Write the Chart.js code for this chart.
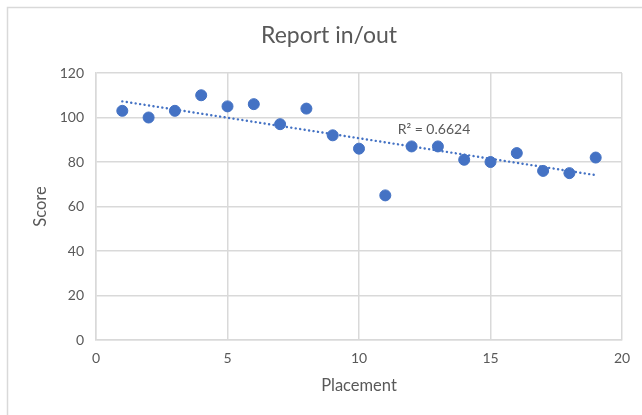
<!DOCTYPE html>
<html>
<head>
<meta charset="utf-8">
<script src="https://cdn.jsdelivr.net/npm/chart.js@4"></script>
<style>
  html, body { margin: 0; padding: 0; background: #fff; }
  #wrap { position: relative; width: 642px; height: 415px; }
</style>
</head>
<body>
<div id="wrap"><canvas id="chart-area" width="642" height="415"></canvas></div>
<script>
// placement on x, score on y
var placement = [1, 2, 3, 4, 5, 6, 7, 8, 9, 10, 11, 12, 13, 14, 15, 16, 17, 18, 19];
var score = [103, 100, 103, 110, 105, 106, 97, 104, 92, 86, 65, 87, 87, 81, 80, 84, 76, 75, 82];
var xTicks = [0, 5, 10, 15, 20];
var yTicks = [0, 20, 40, 60, 80, 100, 120];
var chartTitle = 'Report in/out';
var r2Label = 'R\u00B2 = 0.6624';

var blue = '#4472C4';
var grey = '#595959';
var gridGrey = '#d9d9d9';

// linear trendline from the points (least squares)
function trend(xs, ys) {
  var n = xs.length, sx = 0, sy = 0, sxy = 0, sxx = 0;
  for (var i = 0; i < n; i++) {
    sx += xs[i]; sy += ys[i]; sxy += xs[i] * ys[i]; sxx += xs[i] * xs[i];
  }
  var m = (n * sxy - sx * sy) / (n * sxx - sx * sx);
  var b = (sy - m * sx) / n;
  var x0 = xs[0], x1 = xs[n - 1];
  return [{x: x0, y: m * x0 + b}, {x: x1, y: m * x1 + b}];
}

var points = placement.map(function(p, i) { return {x: p, y: score[i]}; });

var frame = {
  id: 'frame',
  beforeDraw: function(chart) {
    var c = chart.ctx;
    c.save();
    c.fillStyle = '#fff';
    c.fillRect(0, 0, chart.width, chart.height);
    c.strokeStyle = gridGrey;
    c.lineWidth = 1.5;
    c.strokeRect(7.5, 7.5, 700, 500);
    // title, centred on the framed box rather than the plot
    c.font = '23px Lato';
    c.fillStyle = grey;
    c.textAlign = 'center';
    c.textBaseline = 'middle';
    c.fillText(chartTitle, 329, 36);
    c.restore();
  },
  afterDatasetsDraw: function(chart) {
    var c = chart.ctx;
    var xs = chart.scales.x, ys = chart.scales.y;
    c.save();
    c.font = '14px Lato';
    c.fillStyle = grey;
    c.textAlign = 'center';
    c.textBaseline = 'middle';
    c.fillText(r2Label, xs.getPixelForValue(12.85), ys.getPixelForValue(94.4));
    c.restore();
  }
};

var config = {
  type: 'scatter',
  data: {
    datasets: [{
      type: 'line',
      label: 'Trend',
      data: trend(placement, score),
      borderColor: blue,
      borderWidth: 2.4,
      borderDash: [0.1, 4.4],
      borderCapStyle: 'round',
      pointRadius: 0,
      fill: false,
      order: 2
    }, {
      label: 'Score',
      data: points,
      backgroundColor: blue,
      borderColor: blue,
      pointRadius: 5.5,
      order: 1
    }]
  },
  options: {
    responsive: false,
    animation: false,
    layout: { padding: { left: 0, right: 20, top: 73, bottom: 0 } },
    plugins: {
      legend: { display: false },
      tooltip: { enabled: false },
      title: { display: false }
    },
    scales: {
      x: {
        type: 'linear',
        min: 0, max: 20,
        afterBuildTicks: function(s) { s.ticks = xTicks.map(function(v) { return {value: v}; }); },
        afterFit: function(s) { s.height = 75; },
        grid: { color: gridGrey, drawTicks: false, lineWidth: 1.5 },
        border: { color: gridGrey, width: 1.5 },
        ticks: { color: grey, font: { family: 'Lato', size: 14 }, padding: 10 },
        title: {
          display: true, text: 'Placement', color: grey,
          font: { family: 'Lato', size: 16.5 },
          padding: { top: 0, bottom: 19 }
        }
      },
      y: {
        min: 0, max: 120,
        afterBuildTicks: function(s) { s.ticks = yTicks.map(function(v) { return {value: v}; }); },
        afterFit: function(s) { s.width = 96; },
        grid: { color: gridGrey, drawTicks: false, lineWidth: 1.5 },
        border: { color: gridGrey, width: 1.5 },
        ticks: { color: grey, font: { family: 'Lato', size: 14 }, padding: 12 },
        title: {
          display: true, text: 'Score', color: grey,
          font: { family: 'Lato', size: 16.5 },
          padding: { top: 31, bottom: 0 }
        }
      }
    }
  },
  plugins: [frame]
};

window.onload = function() {
  var ctx = document.getElementById('chart-area').getContext('2d');
  window.myScatter = new Chart(ctx, config);
};
</script>
</body>
</html>
